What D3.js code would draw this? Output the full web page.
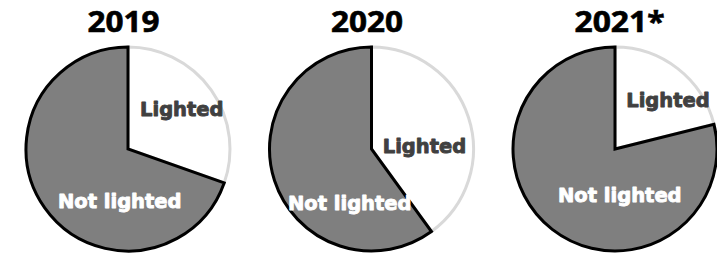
<!DOCTYPE html>
<html>
<head>
<meta charset="utf-8">
<script src="https://cdn.jsdelivr.net/npm/d3@7"></script>
<style>
  body { margin: 0; background: #fff; }
</style>
</head>
<body>
<svg id="chart"></svg>
<script>
// data (share of each year, %)
const years = ["2019", "2020", "2021*"];
const categories = ["Lighted", "Not lighted"];
const lighted = [30.4, 40.0, 21.1];
const notLighted = [69.6, 60.0, 78.9];

const w = 717, h = 255;
const r = 102;
const cy = 149;

// where the labels sit, as [angle in degrees from 12 o'clock, fraction of radius]
const labelPlace = [
  { Lighted: [53, 0.66], "Not lighted": [189, 0.52] },
  { Lighted: [87, 0.52], "Not lighted": [202, 0.57] },
  { Lighted: [47, 0.71], "Not lighted": [174, 0.45] }
];

const svg = d3.select('#chart')
  .attr('width', w)
  .attr('height', h);

const xScale = d3.scalePoint()
  .domain(years)
  .range([128, 615]);

const fill = d3.scaleOrdinal().domain(categories).range(['#ffffff', '#7f7f7f']);
const stroke = d3.scaleOrdinal().domain(categories).range(['#d9d9d9', '#000000']);
const textColor = d3.scaleOrdinal().domain(categories).range(['#404040', '#ffffff']);

const pie = d3.pie().sort(null).value(d => d.value);
const arc = d3.arc().innerRadius(0).outerRadius(r);

years.forEach((year, i) => {
  const rows = [
    { cat: categories[0], value: lighted[i] },
    { cat: categories[1], value: notLighted[i] }
  ];
  const g = svg.append('g')
    .attr('transform', `translate(${xScale(year)}, ${cy})`);

  const arcs = pie(rows);

  g.selectAll('path')
    .data(arcs)
    .join('path')
    .attr('d', arc)
    .attr('fill', d => fill(d.data.cat))
    .attr('stroke', d => stroke(d.data.cat))
    .attr('stroke-width', 3)
    .attr('stroke-linejoin', 'miter');

  // heavy labels: bold face thickened with a thin outline of the same colour
  g.selectAll('text.lbl')
    .data(arcs)
    .join('text')
    .attr('class', 'lbl')
    .attr('transform', d => {
      const p = labelPlace[i][d.data.cat];
      const a = p[0] * Math.PI / 180;
      return `translate(${Math.sin(a) * r * p[1]}, ${-Math.cos(a) * r * p[1]})`;
    })
    .attr('text-anchor', 'middle')
    .attr('dy', '0.36em')
    .style('font-family', '"DejaVu Sans", sans-serif')
    .style('font-weight', 'bold')
    .style('font-size', '19.5px')
    .attr('fill', d => textColor(d.data.cat))
    .attr('stroke', d => textColor(d.data.cat))
    .attr('stroke-width', 0.9)
    .attr('stroke-linejoin', 'round')
    .text(d => d.data.cat);

  svg.append('text')
    .attr('x', xScale(year) - 40.5)
    .attr('y', 32)
    .attr('textLength', year.length * 18)
    .attr('lengthAdjust', 'spacingAndGlyphs')
    .style('font-family', '"Open Sans", sans-serif')
    .style('font-weight', 'bold')
    .style('font-size', '28px')
    .attr('fill', '#000')
    .attr('stroke', '#000')
    .attr('stroke-width', 0.6)
    .text(year);
});
</script>
</body>
</html>
